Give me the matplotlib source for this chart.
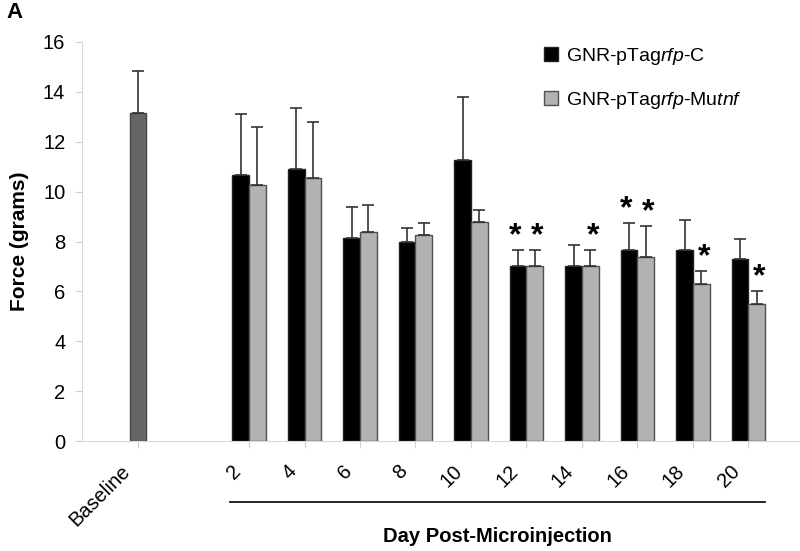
import numpy as np
import matplotlib
matplotlib.use("Agg")
import matplotlib.pyplot as plt
from matplotlib.patches import Patch
import matplotlib.transforms as mtransforms

plt.rcParams['font.family'] = ['Liberation Sans', 'DejaVu Sans']
plt.rcParams['mathtext.fontset'] = 'custom'
plt.rcParams['mathtext.rm'] = 'Liberation Sans'
plt.rcParams['mathtext.it'] = 'Liberation Sans:italic'

# data
baseline_mean = 13.15
baseline_err = 1.68
days = [2, 4, 6, 8, 10, 12, 14, 16, 18, 20]
ctrl_mean = [10.67, 10.90, 8.14, 7.98, 11.27, 7.02, 7.00, 7.66, 7.66, 7.28]
ctrl_err = [2.43, 2.45, 1.24, 0.56, 2.53, 0.64, 0.86, 1.08, 1.20, 0.82]
mut_mean = [10.26, 10.54, 8.38, 8.26, 8.78, 7.00, 7.00, 7.38, 6.30, 5.50]
mut_err = [2.34, 2.26, 1.08, 0.48, 0.48, 0.66, 0.66, 1.24, 0.52, 0.50]
ctrl_sig = [False, False, False, False, False, True, False, True, False, False]
mut_sig = [False, False, False, False, False, True, True, True, True, True]

x_days = np.arange(len(days)) + 2
w = 0.3

fig = plt.figure(figsize=(8, 5.51), dpi=100)
ax = fig.add_axes([0.1025, 0.1996, 0.8975, 0.7242])

ekw = dict(ecolor='#333333', elinewidth=1.2, capsize=4, capthick=1.2)
ax.bar(0, baseline_mean, w * 0.95, color='#666666', edgecolor='#444444', linewidth=1)
ax.errorbar(0, baseline_mean, yerr=[[0], [baseline_err]], fmt='none', **ekw)

ax.bar(x_days - w / 2, ctrl_mean, w, color='black', edgecolor='#222222', linewidth=1)
ax.bar(x_days + w / 2, mut_mean, w, color='#b2b2b2', edgecolor='#505050', linewidth=1)
ax.errorbar(x_days - w / 2, ctrl_mean, yerr=[np.zeros(len(days)), ctrl_err], fmt='none', **ekw)
ax.errorbar(x_days + w / 2, mut_mean, yerr=[np.zeros(len(days)), mut_err], fmt='none', **ekw)

# significance stars
for i in range(len(days)):
    if ctrl_sig[i]:
        ax.text(x_days[i] - w / 2 - 0.05, ctrl_mean[i] + ctrl_err[i] + 0.55, '*',
                ha='center', va='center', fontsize=23, fontweight='bold')
    if mut_sig[i]:
        ax.text(x_days[i] + w / 2 + 0.05, mut_mean[i] + mut_err[i] + 0.55, '*',
                ha='center', va='center', fontsize=23, fontweight='bold')

ax.set_ylim(0, 16)
ax.set_xlim(-1.01, 11.93)
ax.set_yticks(range(0, 17, 2))
ax.tick_params(axis='y', labelsize=14.5, color='#d0d0d0', length=5, pad=7)

ax.set_xticks([0] + list(x_days))
ax.set_xticklabels(['Baseline'] + [str(d) for d in days], rotation=45,
                   ha='right', rotation_mode='anchor', fontsize=14.5)
ax.tick_params(axis='x', color='#d0d0d0', length=5, pad=10)
offset = mtransforms.ScaledTranslation(-0.18, 0.0, fig.dpi_scale_trans)
for lab in ax.get_xticklabels():
    lab.set_transform(lab.get_transform() + offset)

for side in ['top', 'right']:
    ax.spines[side].set_visible(False)
for side in ['left', 'bottom']:
    ax.spines[side].set_color('#d8d8d8')

trans = mtransforms.blended_transform_factory(ax.transData, ax.transAxes)
ax.plot([1.65, 11.3], [-0.153, -0.153], color='black', linewidth=1.2,
        transform=trans, clip_on=False)
ax.text(6.47, -0.24, 'Day Post-Microinjection', transform=trans, ha='center',
        va='center', fontsize=14.5, fontweight='bold')

fig.text(0.024, 0.5625, 'Force (grams)', rotation=90, ha='center', va='center',
         fontsize=15, fontweight='bold')
fig.text(0.008, 0.978, 'A', ha='left', va='center', fontsize=16, fontweight='bold')

handles = [Patch(facecolor='black', edgecolor='#222222'),
           Patch(facecolor='#b2b2b2', edgecolor='#505050')]
labels = [r'GNR-pTag$\it{rfp}$-C', r'GNR-pTag$\it{rfp}$-Mu$\it{tnf}$']
fig.legend(handles, labels, loc='upper left', bbox_to_anchor=(0.658, 0.948),
           frameon=False, fontsize=14, handlelength=0.75, handleheight=0.75,
           handletextpad=0.4, labelspacing=1.15)

fig.savefig('out.png', dpi=100)
